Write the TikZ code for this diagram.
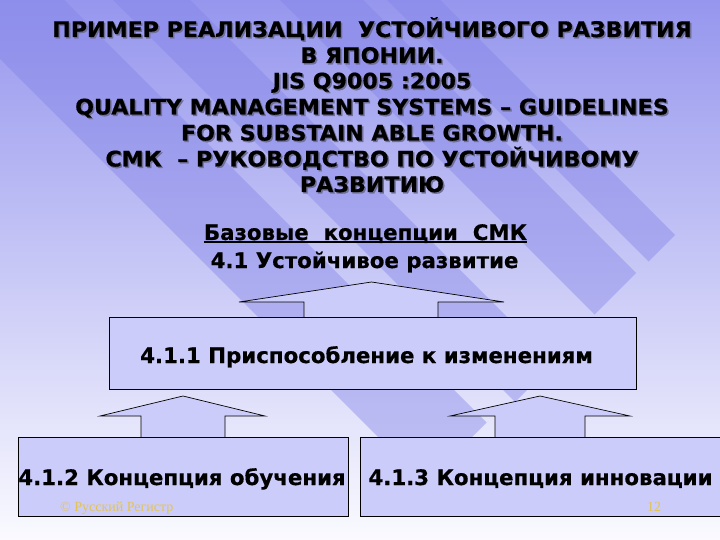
\documentclass[tikz,border=0pt]{standalone}
\usepackage{fontspec}
\setmainfont{DejaVu Sans}[FakeBold=0.6]
\newfontfamily\ttlf{DejaVu Sans}[FakeStretch=1.03, FakeBold=0.6]
\newfontfamily\serf{Liberation Serif}
\definecolor{bgtop}{RGB}{150,150,238}
\definecolor{bgbot}{RGB}{250,250,255}
\definecolor{stripec}{RGB}{130,130,232}
\definecolor{boxfill}{RGB}{204,204,250}
\definecolor{gold}{RGB}{226,196,84}
\definecolor{shadowc}{RGB}{110,110,150}
\tikzset{
  txt/.style={inner sep=0pt, anchor=base, font=\fontsize{21.3}{25}\selectfont\bfseries},
  ttl/.style={inner sep=0pt, anchor=base, font=\ttlf\fontsize{21.5}{25}\selectfont\bfseries},
  shd/.style={ttl, text=shadowc},
  stripe/.style={fill=stripec, fill opacity=0.42, draw=none},
  blk/.style={fill=boxfill, draw=black, line width=0.9pt},
  arr/.style={fill=boxfill, draw=black, line width=0.7pt, line join=miter},
  foot/.style={inner sep=0pt, anchor=base west, text=gold, font=\serf\fontsize{14}{16}\selectfont},
}
\begin{document}
\begin{tikzpicture}[x=1pt,y=-1pt]
\useasboundingbox (0,0) rectangle (720,540);
% background
\shade[top color=bgtop, bottom color=bgbot] (0,0) rectangle (720,540);
\begin{scope}
\clip (0,0) rectangle (720,540);
\fill[stripe] (-69,-10) -- (54,-10) -- (486.5,422.5) -- (425,484) -- cycle;
\fill[stripe] (103,-10) -- (180,-10) -- (553.5,363.5) -- (515,402) -- cycle;
\fill[stripe] (270,-10) -- (353,-10) -- (636,273) -- (594.5,314.5) -- cycle;
\fill[stripe] (377,-10) -- (430,-10) -- (675,235) -- (648.5,261.5) -- cycle;
\end{scope}
% title with shadow
\node[shd] (t1s) at (373.5,38.5) {ПРИМЕР РЕАЛИЗАЦИИ\ \ УСТОЙЧИВОГО РАЗВИТИЯ};
\node[ttl] (t1) at (372,37) {ПРИМЕР РЕАЛИЗАЦИИ\ \ УСТОЙЧИВОГО РАЗВИТИЯ};
\node[shd] (t2s) at (373.5,64.5) {В ЯПОНИИ.};
\node[ttl] (t2) at (372,63) {В ЯПОНИИ.};
\node[shd] (t3s) at (373.5,90) {JIS Q9005 :2005};
\node[ttl] (t3) at (372,88.5) {JIS Q9005 :2005};
\node[shd] (t4s) at (373.5,116) {QUALITY MANAGEMENT SYSTEMS – GUIDELINES};
\node[ttl] (t4) at (372,114.5) {QUALITY MANAGEMENT SYSTEMS – GUIDELINES};
\node[shd] (t5s) at (373.5,142) {FOR SUBSTAIN ABLE GROWTH.};
\node[ttl] (t5) at (372,140.5) {FOR SUBSTAIN ABLE GROWTH.};
\node[shd] (t6s) at (373.5,168) {СМК\ \ – РУКОВОДСТВО ПО УСТОЙЧИВОМУ};
\node[ttl] (t6) at (372,166.5) {СМК\ \ – РУКОВОДСТВО ПО УСТОЙЧИВОМУ};
\node[shd] (t7s) at (373.5,193.5) {РАЗВИТИЮ};
\node[ttl] (t7) at (372,192) {РАЗВИТИЮ};
% subtitle
\node[txt] (b1) at (365.5,240) {Базовые\ \ концепции\ \ СМК};
\draw[line width=1.6pt] ([yshift=-2.2pt]b1.base west) -- ([yshift=-2.2pt]b1.base east);
\node[txt] (b2) at (364.5,268) {4.1 Устойчивое развитие};
% arrows
\draw[arr] (304,317) -- (304,302) -- (239,302) -- (371.5,282) -- (504,302) -- (438,302) -- (438,317);
\draw[arr] (141,437) -- (141,416) -- (100,416) -- (183,396) -- (265,416) -- (225,416) -- (225,437);
\draw[arr] (495,437) -- (495,416) -- (450,416) -- (540,396) -- (630,416) -- (585,416) -- (585,437);
% boxes
\node[blk, minimum width=527pt, minimum height=72pt, anchor=north west] (m) at (109,317) {};
\node[blk, minimum width=330pt, minimum height=79pt, anchor=north west] (l) at (18,437) {};
\node[blk, minimum width=380pt, minimum height=79pt, anchor=north west] (r) at (360,437) {};
\node[txt] (mt) at (366.5,363) {4.1.1 Приспособление к изменениям};
\node[txt] (lt) at (182,485) {4.1.2 Концепция обучения};
\node[txt] (rt) at (540.5,485) {4.1.3 Концепция инновации};
% footer
\node[foot] (f1) at (60,511) {© Русский Регистр};
\node[foot] (f2) at (647,511) {12};
\end{tikzpicture}
\end{document}
